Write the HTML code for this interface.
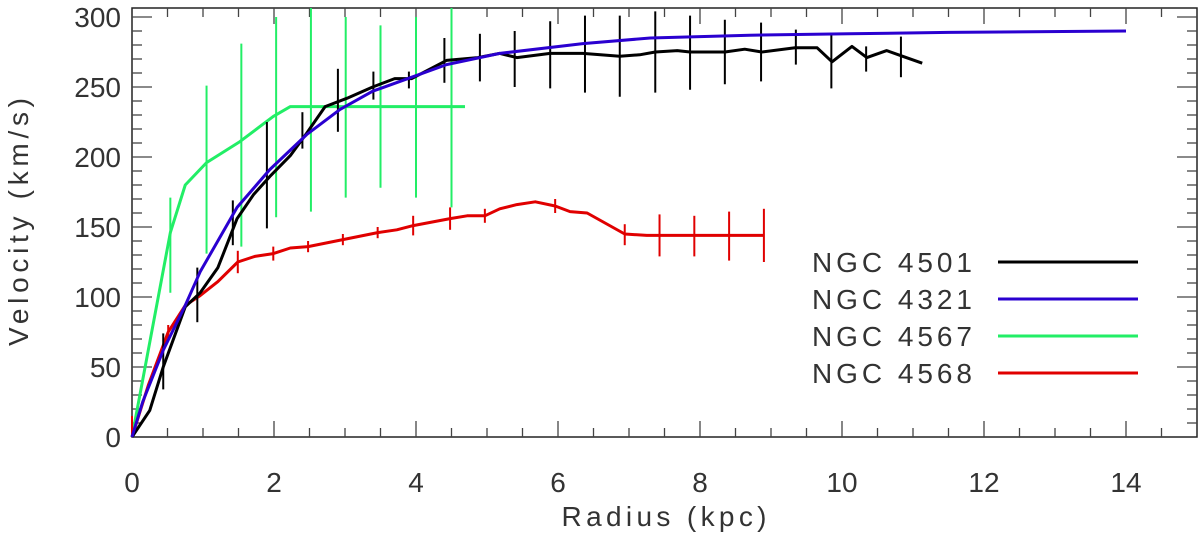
<!DOCTYPE html>
<html><head><meta charset="utf-8"><style>
html,body{margin:0;padding:0;background:#fff;}
svg text{font-family:"Liberation Sans",sans-serif;fill:#333;}
</style></head><body>
<svg id="chart" width="1200" height="538" viewBox="0 0 1200 538" xmlns="http://www.w3.org/2000/svg">
<g id="grid"></g>
<g id="series"></g>
<g id="legend"></g>
<text x="664" y="526" font-size="28" text-anchor="middle" textLength="205">Radius (kpc)</text>
<text transform="translate(28,222) rotate(-90)" font-size="28" text-anchor="middle" textLength="248">Velocity (km/s)</text>
</svg>
<script>
const xTicks = [0,2,4,6,8,10,12,14];
const yTicks = [0,50,100,150,200,250,300];
const seriesNames = ["NGC 4501","NGC 4321","NGC 4567","NGC 4568"];
const seriesColors = ["#000000","#2a00d0","#22ee66","#e00000"];

const n4501R = [0,0.25,0.44,0.75,0.96,1.21,1.48,1.71,1.94,2.23,2.46,2.72,3.03,3.39,3.70,3.94,4.43,4.87,5.18,5.42,5.89,6.35,6.87,7.15,7.37,7.68,7.86,8.35,8.63,8.87,9.34,9.65,9.86,10.14,10.35,10.63,10.85,11.13];
const n4501V = [0,19,50,93,103,121,156,173,186,201,217,236,242,250,256,256,269,271,274,271,274,274,272,273,275,276,275,275,277,275,278,278,268,279,271,276,272,267];
const n4501ErrR = [0.44,0.92,1.42,1.9,2.4,2.9,3.4,3.9,4.4,4.9,5.39,5.89,6.38,6.87,7.37,7.86,8.35,8.86,9.35,9.85,10.34,10.83];
const n4501ErrLo = [34,82,137,149,206,218,241,249,253,254,250,249,246,243,246,248,252,254,266,249,261,257];
const n4501ErrHi = [74,121,169,225,232,263,261,261,285,288,290,297,301,301,304,301,298,296,291,287,279,286];

const n4321R = [0,0.15,0.44,0.75,0.96,1.48,1.94,2.46,2.93,3.39,3.94,4.43,5.18,6.35,7.3,8.7,10.1,11.5,14];
const n4321V = [0,25,62,94,118,164,191,216,234,247,257,266,274,281,285,287,288,289,290];

const n4567R = [0,0.54,0.75,1.05,1.52,1.99,2.23,4.69];
const n4567V = [0,146,180,196,211,229,236,236];
const n4567ErrR = [0.54,1.05,1.54,2.03,2.52,3.01,3.5,4.0,4.5];
const n4567ErrLo = [103,131,136,157,161,171,178,171,164];
const n4567ErrHi = [171,251,281,300,310,300,294,300,310];

const n4568R = [0,0.23,0.51,0.75,0.96,1.21,1.49,1.73,1.99,2.23,2.48,2.97,3.46,3.73,3.96,4.48,4.72,4.97,5.18,5.42,5.68,5.96,6.17,6.41,6.94,7.25,8.89];
const n4568V = [0,37,75,94,101,111,125,129,131,135,136,141,146,148,151,156,158,158,163,166,168,165,161,160,145,144,144];
const n4568ErrR = [0,0.51,1.49,1.99,2.48,2.97,3.46,3.96,4.48,4.97,5.96,6.94,7.43,7.92,8.41,8.9];
const n4568ErrLo = [0,70,117,126,132,137,142,144,148,153,160,137,129,129,126,125];
const n4568ErrHi = [15,80,133,136,140,145,150,158,164,163,170,152,159,158,161,163];

const X0=132, X1=1197, Y0=437, Y1=8, XMAX=15, YMAX=(437-8)/1.4;
const sx = v => X0 + v*(X1-X0)/XMAX;
const sy = v => Y0 - v*(Y0-Y1)/YMAX;
const NS="http://www.w3.org/2000/svg";
function mk(tag, attrs, parent){const e=document.createElementNS(NS,tag);for(const k in attrs)e.setAttribute(k,attrs[k]);parent.appendChild(e);return e;}
const grid=document.getElementById('grid'), ser=document.getElementById('series'), leg=document.getElementById('legend');

const frame=mk('rect',{x:X0,y:Y1,width:X1-X0,height:Y0-Y1,fill:'none',stroke:'#222','stroke-width':1.5},grid);


for(let v=0.5; v<XMAX; v+=0.5){
  const major = Math.abs(v-Math.round(v/2)*2)<1e-6;
  const L = major?16:9;
  mk('line',{x1:sx(v),x2:sx(v),y1:Y0,y2:Y0-L,stroke:'#444','stroke-width':1.3},grid);
  mk('line',{x1:sx(v),x2:sx(v),y1:Y1,y2:Y1+L,stroke:'#444','stroke-width':1.3},grid);
}
for(let v=10; v<YMAX; v+=10){
  const major = v%50===0;
  const L = major?20:10;
  mk('line',{x1:X0,x2:X0+L,y1:sy(v),y2:sy(v),stroke:'#444','stroke-width':1.3},grid);
  mk('line',{x1:X1,x2:X1-L,y1:sy(v),y2:sy(v),stroke:'#444','stroke-width':1.3},grid);
}
xTicks.forEach(t=>{
  const e=mk('text',{x:sx(t),y:492,'font-size':28,'text-anchor':'middle'},grid);
  e.textContent=t;
  
  
});
yTicks.forEach(t=>{
  const e=mk('text',{x:121,y:sy(t)+10,'font-size':28,'text-anchor':'end'},grid);
  e.textContent=t;
  
  
});

function line(xs,vs,color,name){
  const p=mk('polyline',{points:xs.map((x,i)=>sx(x)+','+sy(Math.min(vs[i],YMAX))).join(' '),fill:'none',stroke:color,'stroke-width':3,'stroke-linejoin':'round'},ser);
  
  
}
function errs(xs,lo,hi,color,name){
  xs.forEach((x,i)=>{
    const e=mk('line',{x1:sx(x),x2:sx(x),y1:sy(Math.min(lo[i],YMAX)),y2:sy(Math.min(hi[i],YMAX)),stroke:color,'stroke-width':2},ser);
    
    
  });
}
errs(n4567ErrR,n4567ErrLo,n4567ErrHi,seriesColors[2],'ngc4567-error-bar');
line(n4567R,n4567V,seriesColors[2],'ngc4567-line');
errs(n4568ErrR,n4568ErrLo,n4568ErrHi,seriesColors[3],'ngc4568-error-bar');
line(n4568R,n4568V,seriesColors[3],'ngc4568-line');
errs(n4501ErrR,n4501ErrLo,n4501ErrHi,seriesColors[0],'ngc4501-error-bar');
line(n4501R,n4501V,seriesColors[0],'ngc4501-line');
line(n4321R,n4321V,seriesColors[1],'ngc4321-line');

seriesNames.forEach((n,i)=>{
  const y=262+i*37;
  const t=mk('text',{x:812,y:y+10,'font-size':28,textLength:160},leg);
  t.textContent=n;
  
  
  const l=mk('line',{x1:998,x2:1138,y1:y,y2:y,stroke:seriesColors[i],'stroke-width':3},leg);
  
  
});
</script>
</body></html>
